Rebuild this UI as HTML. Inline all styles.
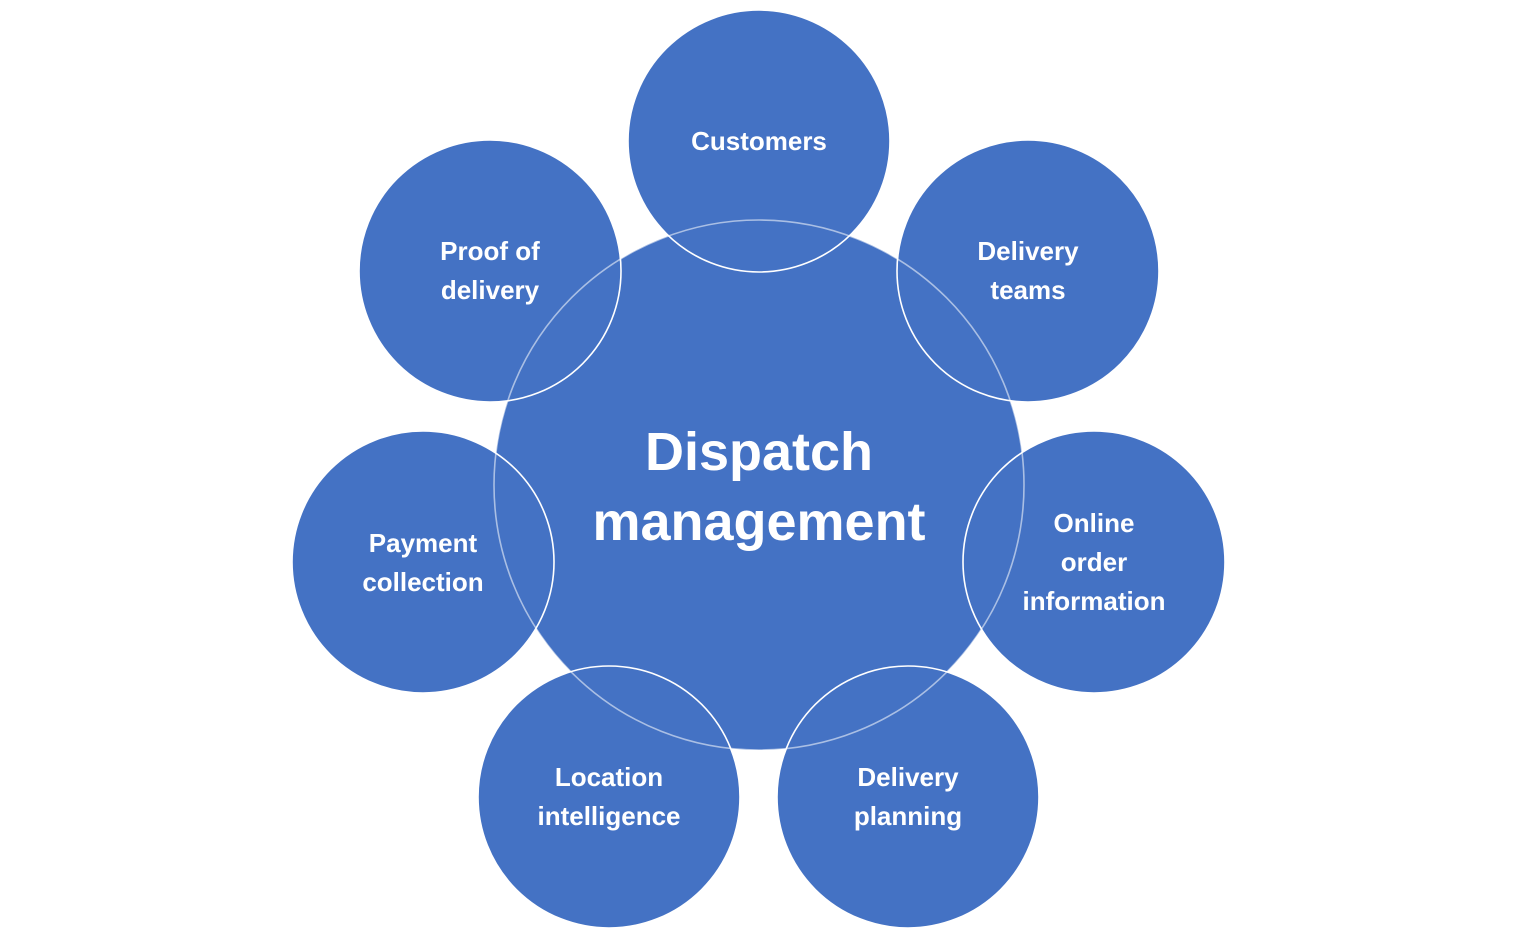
<!DOCTYPE html>
<html><head><meta charset="utf-8"><style>
html,body{margin:0;padding:0;background:#fff;}
svg{display:block;}
text{font-family:"Liberation Sans",sans-serif;font-weight:bold;fill:#fff;text-anchor:middle;}
</style></head><body>
<svg width="1518" height="937" viewBox="0 0 1518 937">
<g fill="#4472C4">
<circle cx="759" cy="485" r="265"/>
<circle cx="759" cy="141" r="131"/>
<circle cx="490" cy="271" r="131"/>
<circle cx="1028" cy="271" r="131"/>
<circle cx="423" cy="562" r="131"/>
<circle cx="1094" cy="562" r="131"/>
<circle cx="609" cy="797" r="131"/>
<circle cx="908" cy="797" r="131"/>
</g>
<g fill="none" stroke="#fff" stroke-width="1.6">
<circle cx="759" cy="485" r="265" stroke-opacity="0.55"/>
<circle cx="759" cy="141" r="131"/>
<circle cx="490" cy="271" r="131"/>
<circle cx="1028" cy="271" r="131"/>
<circle cx="423" cy="562" r="131"/>
<circle cx="1094" cy="562" r="131"/>
<circle cx="609" cy="797" r="131"/>
<circle cx="908" cy="797" r="131"/>
</g>
<g font-size="54">
<text x="759" y="470">Dispatch</text>
<text x="759" y="540">management</text>
</g>
<g font-size="26">
<text x="759" y="150">Customers</text>
<text x="490" y="260">Proof of</text>
<text x="490" y="299">delivery</text>
<text x="1028" y="260">Delivery</text>
<text x="1028" y="299">teams</text>
<text x="423" y="552">Payment</text>
<text x="423" y="591">collection</text>
<text x="1094" y="532">Online</text>
<text x="1094" y="571">order</text>
<text x="1094" y="610">information</text>
<text x="609" y="786">Location</text>
<text x="609" y="825">intelligence</text>
<text x="908" y="786">Delivery</text>
<text x="908" y="825">planning</text>
</g>
</svg>
</body></html>
